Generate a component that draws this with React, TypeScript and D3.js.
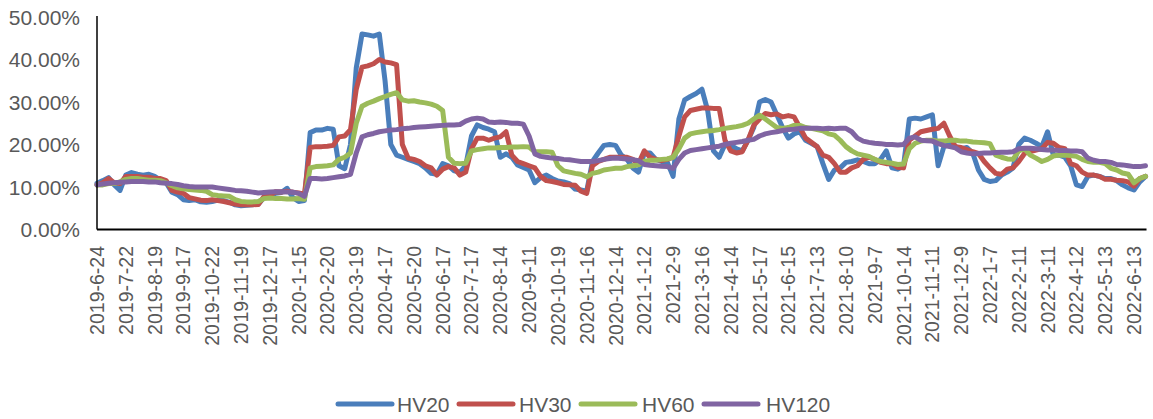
import React from "react";
import * as d3 from "d3";

// Tick labels (every 20 trading days)
const dateLabels = [
  "2019-6-24","2019-7-22","2019-8-19","2019-9-17","2019-10-22","2019-11-19","2019-12-17",
  "2020-1-15","2020-2-20","2020-3-19","2020-4-17","2020-5-20","2020-6-17","2020-7-17","2020-8-14",
  "2020-9-11","2020-10-19","2020-11-16","2020-12-14",
  "2021-1-12","2021-2-9","2021-3-16","2021-4-14","2021-5-17","2021-6-15","2021-7-13","2021-8-10",
  "2021-9-7","2021-10-14","2021-11-11","2021-12-9",
  "2022-1-7","2022-2-11","2022-3-11","2022-4-12","2022-5-13","2022-6-13",
];
const LABEL_STEP = 20; // trading days between labels
const SAMPLE_STEP = 4; // trading days between data samples

const yTicks = [0, 10, 20, 30, 40, 50];

// Values in percent, one value every 4 trading days from 2019-6-24
const hv20 = [
  10.9, 11.5, 12.2, 10.5, 9.2, 12.8, 13.4, 13.0, 12.8, 13.0,
  12.5, 11.6, 11.0, 8.8, 8.2, 7.0, 6.8, 7.0, 6.5, 6.4,
  6.6, 6.9, 6.8, 6.4, 5.8, 5.6, 5.7, 5.8, 6.0, 7.5,
  7.8, 8.5, 8.7, 9.7, 7.5, 6.6, 6.8, 22.8, 23.4, 23.4,
  23.8, 23.6, 15.0, 14.3, 20.0, 38.0, 46.0, 45.8, 45.5, 46.0,
  35.0, 20.0, 17.5, 17.0, 16.5, 16.0, 15.5, 14.5, 13.2, 13.0,
  15.5, 15.0, 13.8, 13.5, 15.0, 22.0, 24.6, 24.0, 23.6, 23.0,
  17.0, 17.8, 17.0, 15.2, 14.6, 14.0, 11.0, 12.2, 12.8, 12.0,
  11.4, 11.2, 10.8, 9.5, 9.3, 9.0, 16.0, 18.0, 19.8, 20.0,
  19.8, 17.5, 16.5, 14.5, 13.5, 18.0, 18.0, 16.5, 16.0, 15.8,
  12.5, 26.0, 30.5, 31.3, 32.0, 33.0, 28.0, 18.5, 17.0, 20.0,
  19.8, 19.0, 18.5, 21.0, 24.0, 30.0, 30.6, 30.0, 27.0, 24.0,
  21.5, 22.5, 23.0, 21.0, 20.3, 19.5, 15.5, 11.8, 14.0, 14.5,
  15.8, 16.0, 16.4, 16.0, 15.5, 15.5, 16.5, 18.5, 14.5, 14.2,
  15.0, 26.0, 26.2, 26.0, 26.5, 27.0, 15.0, 19.5, 20.0, 19.5,
  19.0, 19.3, 18.0, 14.0, 11.8, 11.3, 11.5, 12.8, 13.5, 14.5,
  20.0, 21.5, 21.0, 20.3, 19.5, 23.0, 17.5, 17.5, 17.0, 15.0,
  10.5, 10.1, 12.5, 12.8, 12.5, 12.0, 12.0, 11.5, 10.5, 9.8,
  9.3, 11.2, 12.5,
];
const hv30 = [
  10.5, 11.0, 12.0, 11.0, 10.8, 12.5, 12.5, 12.5, 12.3, 12.3,
  12.0, 12.0, 11.5, 9.2, 8.8, 8.5, 7.5, 7.2, 6.9, 6.8,
  7.0, 6.8, 6.6, 6.3, 6.0, 5.8, 5.8, 5.8, 5.9, 7.8,
  8.0, 8.9, 8.8, 9.0, 8.8, 8.6, 8.3, 19.3, 19.5, 19.5,
  19.6, 19.8, 21.8, 22.0, 23.5, 33.0, 38.2, 38.5, 39.0, 40.0,
  39.4, 39.2, 38.8, 20.0, 16.8, 16.5, 16.0, 15.0, 14.5, 12.8,
  14.2, 14.8, 14.5, 12.8, 13.5, 19.0, 21.5, 21.5, 21.0, 21.5,
  21.8, 23.0, 17.5, 16.0, 15.5, 15.0, 14.5, 12.5, 11.5, 11.3,
  11.0, 10.6, 10.5, 10.4, 9.0, 8.5, 15.0, 16.0, 16.5, 17.0,
  17.0, 17.0, 17.0, 16.5, 15.5, 18.5, 17.0, 16.5, 16.2, 16.5,
  17.0, 22.0, 26.5, 28.0, 28.3, 28.6, 28.6, 28.5, 28.5, 21.0,
  18.5, 18.0, 18.3, 21.0, 24.5, 26.0, 27.3, 27.0, 27.2, 26.5,
  26.8, 26.5, 24.0, 21.5, 20.5, 19.5, 17.5, 17.0, 15.5, 13.5,
  13.5, 14.5, 15.0, 16.5, 17.0, 16.5, 15.8, 15.5, 15.5, 14.6,
  14.5, 21.0, 22.0, 23.0, 23.3, 23.6, 23.8, 25.0, 22.0, 19.5,
  19.3, 18.8, 18.3, 17.9, 16.0, 14.5, 13.2, 13.0, 14.2, 14.5,
  16.0, 17.9, 18.3, 18.7, 19.0, 20.5, 20.3, 19.3, 19.0, 15.5,
  15.0, 13.5, 12.8, 12.8, 12.5, 11.8, 11.8, 11.6, 11.5, 11.2,
  10.2, 12.0, 12.5,
];
const hv60 = [
  10.5, 10.5, 10.8, 10.8, 11.2, 11.8, 12.0, 12.0, 11.8, 11.6,
  11.6, 11.5, 11.0, 10.3, 9.8, 9.6, 9.4, 9.3, 9.2, 9.0,
  8.2, 8.0, 7.9, 7.8, 7.0, 6.6, 6.5, 6.5, 6.6, 7.3,
  7.4, 7.3, 7.3, 7.2, 7.2, 7.3, 7.1, 14.5, 14.8, 14.9,
  15.0, 15.2, 16.5, 17.0, 18.0, 25.0, 29.0, 29.7, 30.2, 30.8,
  31.3, 31.8, 32.2, 30.5, 30.2, 30.3, 30.0, 29.8, 29.5, 29.0,
  28.0, 17.0, 15.6, 15.5, 15.6, 18.5, 18.8, 19.0, 19.2, 19.2,
  19.3, 19.3, 19.4, 19.4, 19.5, 19.4, 18.3, 18.3, 18.3, 18.2,
  15.0, 13.8, 13.5, 13.2, 13.0, 12.4, 13.2, 13.5, 14.0, 14.2,
  14.4, 14.4, 14.8, 15.0, 15.2, 16.0, 16.3, 16.3, 16.5, 16.6,
  17.0, 19.0, 21.5, 22.5, 22.8, 23.0, 23.2, 23.3, 23.5, 23.8,
  24.0, 24.2, 24.5, 25.0, 26.0, 26.9, 26.0, 25.0, 24.0, 23.8,
  24.0, 24.5, 24.5, 24.0, 23.8, 23.5, 23.2, 22.5, 22.2, 21.0,
  19.5, 18.5, 17.8, 17.5, 17.2, 16.5, 16.0, 15.8, 15.6, 15.3,
  15.4, 19.0, 20.3, 20.8, 21.0, 21.0, 20.8, 20.8, 21.0, 21.0,
  20.8, 20.8, 20.6, 20.5, 20.4, 20.2, 17.5, 17.0, 16.6, 16.5,
  18.5, 19.0, 17.5, 16.8, 16.0, 16.5, 17.3, 17.5, 17.5, 17.4,
  17.2, 16.5, 16.0, 15.8, 15.8, 15.5, 14.4, 14.0, 13.3, 13.0,
  11.0, 12.0, 12.5,
];
const hv120 = [
  10.5, 10.7, 10.9, 11.0, 11.1, 11.2, 11.3, 11.3, 11.3, 11.2,
  11.2, 11.0, 10.9, 10.8, 10.6, 10.3, 10.1, 10.0, 10.0, 10.0,
  10.0, 9.8, 9.6, 9.4, 9.2, 9.1, 9.0, 8.8, 8.6, 8.7,
  8.8, 8.9, 8.9, 8.8, 8.8, 8.5, 7.8, 12.0, 12.0, 11.9,
  12.0, 12.2, 12.4, 12.6, 13.0, 18.0, 21.8, 22.3, 22.6, 23.0,
  23.2, 23.4, 23.5, 23.7, 23.8, 24.0, 24.1, 24.2, 24.3, 24.4,
  24.5, 24.6, 24.6, 24.7, 25.5, 26.0, 26.2, 26.0, 25.3, 25.2,
  25.3, 25.2, 25.0, 25.0, 24.8, 22.0, 17.8, 17.2, 17.0, 16.8,
  16.7, 16.5, 16.4, 16.2, 16.0, 16.0, 16.0, 16.2, 16.5, 16.7,
  16.8, 16.7, 16.6, 16.4, 16.2, 15.3, 15.1, 15.0, 14.9, 14.8,
  14.4, 16.5, 18.0, 18.6, 18.8, 19.0, 19.2, 19.4, 19.6, 20.0,
  20.3, 20.5, 20.7, 21.0, 21.2, 22.0, 22.5, 22.8, 23.0, 23.3,
  23.5, 23.6, 23.8, 23.8, 23.8, 23.8, 23.7, 23.8, 23.7, 23.8,
  23.8, 23.0, 21.5, 20.8, 20.5, 20.3, 20.2, 20.0, 20.0, 19.9,
  20.0, 21.5, 21.8, 21.0, 20.9, 20.8, 20.2, 19.8, 19.5, 19.2,
  18.3, 18.0, 17.8, 17.9, 18.0, 18.0, 18.1, 18.2, 18.2, 18.3,
  19.0, 19.1, 19.1, 19.0, 18.8, 18.7, 18.7, 18.6, 18.6, 18.5,
  18.5, 18.3, 16.8, 16.3, 16.0, 16.0, 15.8, 15.3, 15.2, 15.0,
  14.8, 14.8, 15.0,
];

const seriesNames = ["HV20", "HV30", "HV60", "HV120"];
const seriesColors = ["#4A7EBB", "#C0504D", "#9BBB59", "#8064A2"];
const seriesData = [hv20, hv30, hv60, hv120];

const W = 1153;
const H = 419;
const FONT = "'Liberation Sans', Arial, sans-serif";

export default function App() {
  const lastLabelDay = (dateLabels.length - 1) * LABEL_STEP;
  const x = d3.scaleLinear().domain([0, lastLabelDay]).range([97, 1134]);
  const y = d3.scaleLinear().domain([0, 50]).range([229.5, 17]);
  const line = d3
    .line<number>()
    .x((_, i) => x(i * SAMPLE_STEP))
    .y((d) => y(d));

  const plotRight = x((hv20.length - 1) * SAMPLE_STEP) + 1;

  // legend layout
  const legendY = 404;
  const legendItems = [
    { sx: 338, tx: 397 },
    { sx: 459, tx: 519 },
    { sx: 581, tx: 642 },
    { sx: 704, tx: 766 },
  ];

  return (
    <svg
      width={W}
      height={H}
      style={{ position: "absolute", left: 0, top: 0, background: "#fff" }}
      fontFamily={FONT}
    >
      {/* y tick labels */}
      {yTicks.map((t) => (
        <text
          key={t}
          x={80}
          y={y(t)}
          textAnchor="end"
          dominantBaseline="central"
          fontSize={21}
          fill="#595959"
        >
          {t.toFixed(2) + "%"}
        </text>
      ))}
      {/* x tick labels */}
      {dateLabels.map((d, i) => {
        const cx = x(i * LABEL_STEP);
        return (
          <text
            key={d}
            transform={`translate(${cx},246) rotate(-90)`}
            textAnchor="end"
            dominantBaseline="central"
            fontSize={19.5}
            fill="#595959"
          >
            {d}
          </text>
        );
      })}
      {/* series */}
      {seriesData.map((s, i) => (
        <path
          key={seriesNames[i]}
          d={line(s) || ""}
          fill="none"
          stroke={seriesColors[i]}
          strokeWidth={5}
          strokeLinejoin="round"
          strokeLinecap="round"
        />
      ))}
      {/* axes */}
      <line x1={97} x2={97} y1={16} y2={229.5} stroke="#000" strokeWidth={1.5} />
      <line x1={97} x2={plotRight} y1={229.5} y2={229.5} stroke="#000" strokeWidth={2} />
      {/* legend */}
      {seriesNames.map((n, i) => (
        <g key={n}>
          <line
            x1={legendItems[i].sx}
            x2={legendItems[i].sx + 54}
            y1={legendY}
            y2={legendY}
            stroke={seriesColors[i]}
            strokeWidth={5}
            strokeLinecap="round"
          />
          <text
            x={legendItems[i].tx}
            y={legendY}
            dominantBaseline="central"
            fontSize={21}
            fill="#595959"
          >
            {n}
          </text>
        </g>
      ))}
    </svg>
  );
}
